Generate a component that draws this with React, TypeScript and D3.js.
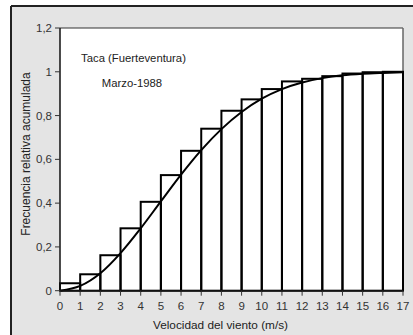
import React from "react";
import * as d3 from "d3";

const binStarts = [0, 1, 2, 3, 4, 5, 6, 7, 8, 9, 10, 11, 12, 13, 14, 15, 16];
const cumFreq = [0.034, 0.075, 0.162, 0.285, 0.406, 0.528, 0.639, 0.74, 0.822, 0.874, 0.921, 0.956, 0.968, 0.98, 0.992, 0.998, 1.0];
const curveX = [0, 1, 2, 3, 4, 5, 6, 7, 8, 9, 10, 11, 12, 13, 14, 15, 16, 17];
const curveY = [0, 0.022, 0.08, 0.172, 0.285, 0.408, 0.53, 0.642, 0.738, 0.816, 0.877, 0.921, 0.951, 0.971, 0.984, 0.991, 0.995, 0.998];
const xTicks = [0, 1, 2, 3, 4, 5, 6, 7, 8, 9, 10, 11, 12, 13, 14, 15, 16, 17];
const yTicks = [0, 0.2, 0.4, 0.6, 0.8, 1, 1.2];
const title1 = "Taca (Fuerteventura)";
const title2 = "Marzo-1988";
const xTitle = "Velocidad del viento (m/s)";
const yTitle = "Frecuencia relativa acumulada";

export default function App() {
  const W = 413, H = 335;
  const left = 60, right = 403, top = 28, bottom = 290.7;
  const x = d3.scaleLinear().domain([0, 17]).range([left, right]);
  const y = d3.scaleLinear().domain([0, 1.2]).range([bottom, top]);
  const line = d3
    .line<number>()
    .x((_, i) => x(curveX[i]))
    .y((d) => y(d))
    .curve(d3.curveMonotoneX);
  const fmt = (v: number) => (v === 0 || v === 1 ? String(v) : v.toFixed(1).replace(".", ","));
  const font = "Liberation Sans, Arial, sans-serif";
  return (
    <svg
      width={W}
      height={H}
      style={{ position: "absolute", left: 0, top: 0 }}
      fontFamily={font}
    >
      <rect x={0} y={0} width={W} height={H} fill="#ffffff" />
      <rect x={11} y={6} width={W - 11} height={H - 6} fill="#e4e4e4" />
      <line x1={11} y1={6} x2={W} y2={6} stroke="#222" strokeWidth={2} />
      <line x1={11} y1={6} x2={11} y2={H} stroke="#222" strokeWidth={2} />
      <rect x={left} y={top} width={right - left} height={bottom - top} fill="#fff" />
      <line x1={left} y1={top} x2={right} y2={top} stroke="#333" strokeWidth={1} />
      <line x1={right} y1={top} x2={right} y2={bottom} stroke="#666" strokeWidth={1.5} />
      {binStarts.map((b, i) => (
        <rect
          key={i}
          x={x(b)}
          y={y(cumFreq[i])}
          width={x(b + 1) - x(b)}
          height={bottom - y(cumFreq[i])}
          fill="none"
          stroke="#000"
          strokeWidth={2}
        />
      ))}
      <path d={line(curveY) || ""} fill="none" stroke="#000" strokeWidth={2} />
      <line x1={left} y1={top} x2={left} y2={bottom} stroke="#111" strokeWidth={1.5} />
      <line x1={left} y1={bottom} x2={right} y2={bottom} stroke="#111" strokeWidth={1.5} />
      {yTicks.map((t) => (
        <g key={t}>
          <line x1={left - 5} x2={left} y1={y(t)} y2={y(t)} stroke="#333" strokeWidth={1} />
          <text x={left - 8} y={y(t)} dy="0.35em" textAnchor="end" fontSize={11.5} fill="#333">
            {fmt(t)}
          </text>
        </g>
      ))}
      {xTicks.map((t) => (
        <g key={t}>
          <line x1={x(t)} x2={x(t)} y1={bottom} y2={bottom + 5} stroke="#333" strokeWidth={1} />
          <text x={x(t)} y={306} dy="0.35em" textAnchor="middle" fontSize={11.5} fill="#333">
            {t}
          </text>
        </g>
      ))}
      <text x={133.5} y={58} dy="0.35em" textAnchor="middle" fontSize={11.3} fill="#222">
        {title1}
      </text>
      <text x={132} y={83} dy="0.35em" textAnchor="middle" fontSize={11.3} fill="#222">
        {title2}
      </text>
      <text x={220.5} y={325} dy="0.35em" textAnchor="middle" fontSize={11.8} fill="#222">
        {xTitle}
      </text>
      <text
        transform={`translate(25.5,154) rotate(-90)`}
        dy="0.35em"
        textAnchor="middle"
        fontSize={12}
        fill="#222"
      >
        {yTitle}
      </text>
    </svg>
  );
}
